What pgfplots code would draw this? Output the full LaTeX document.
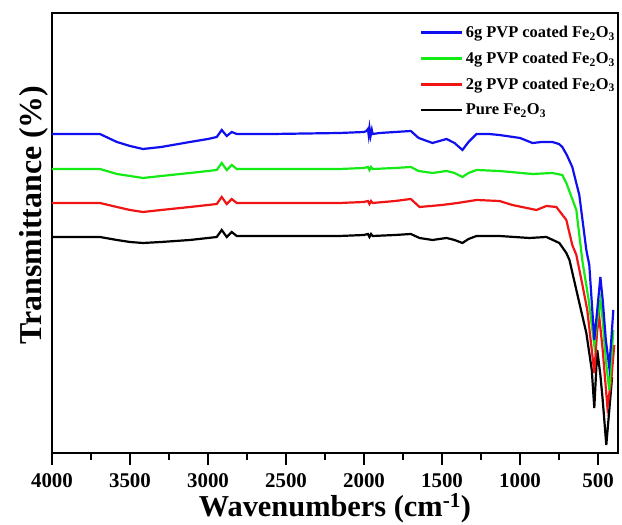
\documentclass[border=0pt]{standalone}
\usepackage{pgfplots}
\pgfplotsset{compat=1.18}
\usepackage{fontspec}
\setmainfont{Liberation Serif}
\definecolor{cblue}{RGB}{15,15,240}
\definecolor{cgreen}{RGB}{20,235,20}
\definecolor{cred}{RGB}{240,20,20}
\begin{document}
\begin{tikzpicture}
\begin{axis}[
  scale only axis,
  width=566bp, height=440bp,
  x dir=reverse,
  xmin=372, xmax=4000,
  ymin=2, ymax=442,
  xtick={500,1000,...,4000},
  minor xtick={750,1250,...,3750},
  ytick=\empty,
  tick align=outside,
  xtick pos=bottom,
  major tick length=12bp,
  minor tick length=7bp,
  every tick/.style={line width=2.4bp, black},
  axis line style={line width=2.6bp},
  /pgf/number format/assume math mode=true,
  /pgf/number format/set thousands separator={},
  ticklabel style={font=\fontsize{21}{21}\selectfont\bfseries},
  xticklabel style={yshift=-8bp, inner sep=0.5bp},
  xlabel={Wavenumbers (cm\textsuperscript{-1})},
  ylabel={Transmittance (\%)},
  xlabel style={font=\fontsize{30.5}{30.5}\selectfont\bfseries, at={(rel axis cs:0.5,0)}, anchor=base, yshift=-64bp, inner sep=0.5bp},
  ylabel style={font=\fontsize{32}{32}\selectfont\bfseries, at={(rel axis cs:-0.0177,0.541)}, anchor=base, rotate=0},
  legend style={draw=none, fill=none, at={(rel axis cs:1,1)}, anchor=north east, xshift=-1bp, yshift=-11bp,
    font=\fontsize{16.5}{16.5}\selectfont\bfseries, row sep=9bp, inner sep=0bp},
  legend cell align=left,
  reverse legend,
  legend image code/.code={\draw[#1, line width=2.8bp] (0,0) -- (41bp,0);},
  every axis plot/.append style={line width=2.2bp},
  clip=false,
]
\coordinate (bl) at (rel axis cs:0,0);
\coordinate (tr) at (rel axis cs:1,1);
\addplot[black] coordinates {
(4000,218)(3800,218)(3693,218)(3584,215)(3500,213)(3417,212)(3300,213)(3116,215)(3000,217)(2944,218)(2912,225)(2880,218)(2848,223)(2816,219)(2585,219)(2300,219)(2156,219)(2000,220)(1975,221)(1965,218)(1955,221)(1945,219)(1800,220)(1700,221)(1644,217)(1561,215)(1471,217)(1420,215)(1369,212)(1330,216)(1279,219)(1132,219)(940,217)(831,218)(748,212)(703,202)(683,195)(639,165)(575,122)(540,85)(524,47)(505,105)(485,80)(470,55)(447,10)(425,50)(410,78)
};
\addplot[cred] coordinates {
(4000,252)(3800,252)(3693,252)(3584,248)(3500,245)(3417,243)(3300,245)(3116,248)(3000,250)(2944,251)(2912,258)(2880,251)(2848,256)(2816,252)(2585,252)(2156,252)(2000,253)(1975,254)(1965,251)(1955,254)(1945,252)(1800,254)(1700,256)(1644,248)(1500,250)(1400,252)(1279,255)(1132,254)(1049,250)(895,245)(831,249)(767,248)(703,235)(665,210)(639,200)(600,170)(569,145)(540,105)(524,82)(505,125)(492,138)(470,105)(440,48)(415,75)(396,110)
};
\addplot[cgreen] coordinates {
(4000,286)(3800,286)(3693,286)(3584,281)(3500,279)(3417,277)(3300,279)(3116,282)(3000,284)(2944,285)(2912,292)(2880,285)(2848,290)(2816,286)(2585,286)(2156,286)(2000,287)(1975,288)(1965,285)(1955,288)(1945,286)(1800,287)(1700,288)(1650,284)(1561,282)(1471,284)(1420,282)(1369,278)(1330,282)(1279,285)(1132,284)(920,281)(793,282)(729,280)(703,272)(639,245)(601,195)(560,155)(524,110)(505,135)(485,155)(470,135)(450,95)(428,65)(415,95)(402,125)
};
\addplot[cblue] coordinates {
(4000,321)(3800,321)(3693,321)(3584,313)(3500,309)(3417,306)(3300,308)(3116,313)(3000,316)(2944,318)(2912,325)(2880,319)(2848,323)(2816,321)(2585,321)(2156,322)(2000,323)(1985,324)(1975,326)(1970,320)(1965,327)(1958,319)(1950,325)(1945,321)(1900,322)(1800,323)(1700,324)(1650,317)(1561,312)(1471,316)(1420,312)(1369,305)(1330,313)(1279,321)(1200,321)(1132,320)(1000,317)(920,312)(860,313)(793,313)(750,311)(729,308)(700,300)(665,288)(620,260)(575,205)(556,190)(524,115)(505,145)(485,178)(470,155)(450,115)(428,88)(415,115)(402,145)
};
\legend{Pure Fe\textsubscript{2}O\textsubscript{3},
  2g PVP coated Fe\textsubscript{2}O\textsubscript{3},
  4g PVP coated Fe\textsubscript{2}O\textsubscript{3},
  6g PVP coated Fe\textsubscript{2}O\textsubscript{3}}
\end{axis}
\pgfresetboundingbox
\path ([shift={(-52bp,-72bp)}]bl) rectangle ([shift={(4bp,13bp)}]tr);
\end{tikzpicture}
\end{document}
